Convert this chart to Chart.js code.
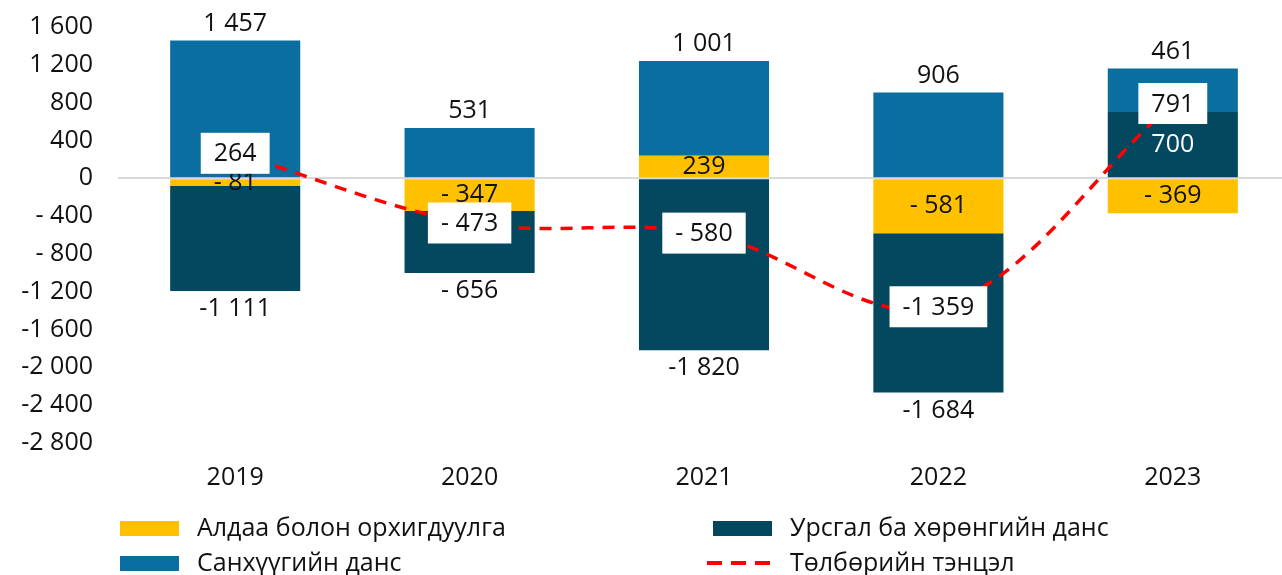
<!DOCTYPE html>
<html>
<head>
<meta charset="utf-8">
<script src="https://cdn.jsdelivr.net/npm/chart.js@4.4.1/dist/chart.umd.min.js"></script>
<style>
    html, body { margin: 0; background: #fff; overflow: hidden; }
    #wrap { position: relative; top: -13px; width: 1290px; height: 588px; }
</style>
</head>
<body>
<div id="wrap"><canvas id="bopChart"></canvas></div>
<script>
'use strict';

const years = ['2019', '2020', '2021', '2022', '2023'];
const errorsOmissions = [-81, -347, 239, -581, -369];
const currentCapital = [-1111, -656, -1820, -1684, 700];
const financialAccount = [1457, 531, 1001, 906, 461];
const balanceOfPayments = [264, -473, -580, -1359, 791];

const seriesNames = [
    'Алдаа болон орхигдуулга',
    'Урсгал ба хөрөнгийн данс',
    'Санхүүгийн данс',
    'Төлбөрийн тэнцэл'
];

const FONT_FAMILY = "'Open Sans', 'Noto Sans', sans-serif";
const FONT_SIZE = 25;
const FONT = FONT_SIZE + 'px ' + FONT_FAMILY;

// 1457 -> "1 457", -81 -> "- 81", -1111 -> "-1 111"
function fmt(v) {
    const a = Math.abs(Math.round(v));
    let s = a >= 1000 ? Math.floor(a / 1000) + ' ' + String(a % 1000).padStart(3, '0') : String(a);
    if (v < 0) s = (a >= 1000 ? '-' : '- ') + s;
    return s;
}

const valueLabels = {
    id: 'valueLabels',
    afterDatasetsDraw(chart) {
        const ctx = chart.ctx;
        ctx.save();
        ctx.font = FONT;
        ctx.textAlign = 'center';
        ctx.textBaseline = 'middle';

        // bar labels
        [0, 1, 2].forEach(i => {
            const ds = chart.data.datasets[i];
            chart.getDatasetMeta(i).data.forEach((bar, j) => {
                const v = ds.data[j];
                let y;
                let color = '#111';
                if (i === 2) {
                    y = bar.y - 17;
                } else if (i === 1 && v < 0) {
                    y = bar.y + 18;
                } else {
                    y = (bar.y + bar.base) / 2;
                    if (i === 1) color = '#fff';
                }
                ctx.fillStyle = color;
                ctx.fillText(fmt(v), bar.x, y);
            });
        });

        // line labels in white boxes
        const lineDs = chart.data.datasets[3];
        chart.getDatasetMeta(3).data.forEach((pt, j) => {
            const txt = fmt(lineDs.data[j]);
            const w = ctx.measureText(txt).width + 26;
            const h = 41;
            ctx.fillStyle = '#fff';
            ctx.fillRect(pt.x - w / 2, pt.y - h / 2, w, h);
            ctx.fillStyle = '#111';
            ctx.fillText(txt, pt.x, pt.y + 1);
        });
        ctx.restore();
    }
};

const customLegend = {
    id: 'customLegend',
    afterDraw(chart) {
        const ctx = chart.ctx;
        // canvas is shifted up by 13px
        const spots = [[120, 541], [713, 541], [120, 576], [713, 576]];
        ctx.save();
        ctx.font = FONT;
        ctx.textBaseline = 'middle';
        ctx.textAlign = 'left';
        chart.data.datasets.forEach((ds, k) => {
            const [x, y] = spots[k];
            if (ds.type === 'line') {
                ctx.strokeStyle = ds.borderColor;
                ctx.lineWidth = 4;
                ctx.setLineDash([15, 9]);
                ctx.beginPath();
                ctx.moveTo(x - 6, y);
                ctx.lineTo(x + 60, y);
                ctx.stroke();
                ctx.setLineDash([]);
            } else {
                ctx.fillStyle = ds.backgroundColor;
                ctx.fillRect(x, y - 7, 59, 15);
            }
            ctx.fillStyle = '#111';
            ctx.fillText(ds.label, x + 77, y + 1);
        });
        ctx.restore();
    }
};

const config = {
    data: {
        labels: years,
        datasets: [
            {
                type: 'bar',
                label: seriesNames[0],
                data: errorsOmissions,
                backgroundColor: '#FFC000',
                stack: 'bars',
                order: 1
            },
            {
                type: 'bar',
                label: seriesNames[1],
                data: currentCapital,
                backgroundColor: '#03485F',
                stack: 'bars',
                order: 1
            },
            {
                type: 'bar',
                label: seriesNames[2],
                data: financialAccount,
                backgroundColor: '#0A6FA0',
                stack: 'bars',
                order: 1
            },
            {
                type: 'line',
                label: seriesNames[3],
                data: balanceOfPayments,
                borderColor: '#FF0000',
                borderWidth: 3.5,
                borderDash: [12, 9],
                pointRadius: 0,
                tension: 0.35,
                fill: false,
                stack: 'line',
                order: 0
            }
        ]
    },
    options: {
        responsive: true,
        maintainAspectRatio: false,
        animation: false,
        layout: {
            padding: { top: 0, right: 0, bottom: 62, left: 0 }
        },
        datasets: {
            bar: { barPercentage: 0.555, categoryPercentage: 1 }
        },
        plugins: {
            legend: { display: false },
            tooltip: { enabled: false }
        },
        scales: {
            x: {
                stacked: true,
                grid: { display: false, drawTicks: false },
                border: { display: false },
                ticks: { color: '#111', font: { size: FONT_SIZE, family: FONT_FAMILY }, padding: 20 }
            },
            y: {
                stacked: true,
                min: -2800,
                max: 1600,
                afterFit(scale) { scale.width = 118; },
                grid: {
                    drawTicks: false,
                    lineWidth: 2,
                    color: c => (c.tick && c.tick.value === 0 ? '#D9D9D9' : 'rgba(0,0,0,0)')
                },
                border: { display: false },
                ticks: {
                    stepSize: 400,
                    padding: 25,
                    color: '#111',
                    font: { size: FONT_SIZE, family: FONT_FAMILY },
                    callback: v => fmt(v)
                }
            }
        }
    },
    plugins: [valueLabels, customLegend]
};

new Chart(document.getElementById('bopChart'), config);
</script>
</body>
</html>
